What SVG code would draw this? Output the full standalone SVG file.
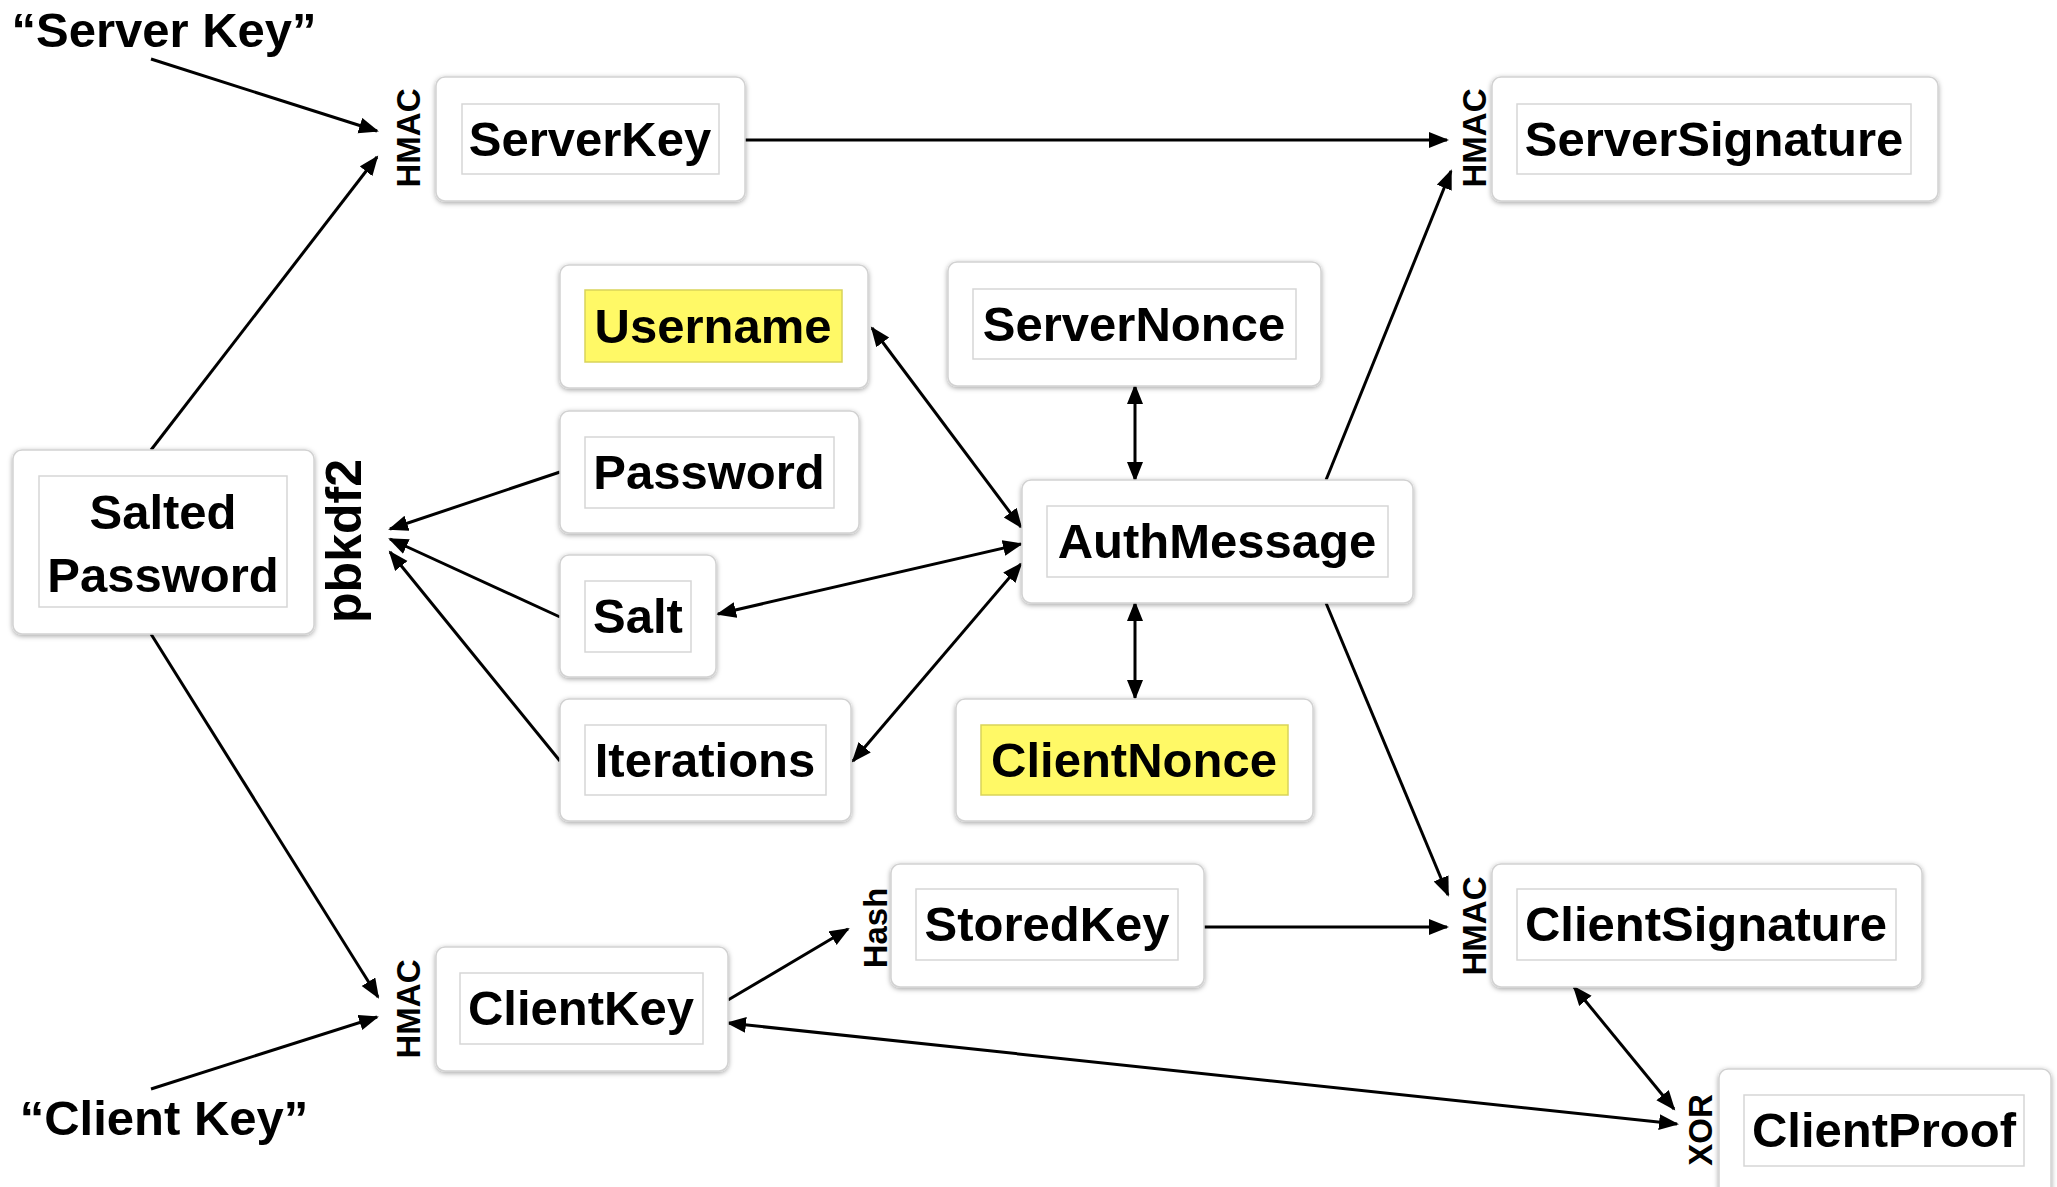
<svg xmlns="http://www.w3.org/2000/svg" width="2057" height="1187" viewBox="0 0 2057 1187">
  <style>
    .box { fill: #ffffff; stroke: #d2d2d2; stroke-width: 1.5; filter: url(#sh); }
    .inner { fill: #ffffff; stroke: #d6d6d6; stroke-width: 1.5; }
    .hl { fill: #fff966; stroke: #d9d35a; stroke-width: 1.5; }
    .lbl { font-family: "Liberation Sans", Arial, Helvetica, sans-serif; font-weight: bold; font-size: 49px; fill: #000; text-anchor: middle; }
    .op { font-family: "Liberation Sans", Arial, Helvetica, sans-serif; font-weight: bold; font-size: 33px; fill: #000; text-anchor: middle; }
    .kdf { font-family: "Liberation Sans", Arial, Helvetica, sans-serif; font-weight: bold; font-size: 50px; fill: #000; text-anchor: middle; }
    .edge { stroke: #000; stroke-width: 3; fill: none; marker-end: url(#ah); }
    .both { marker-start: url(#ah); }
  </style>
  <defs>
    <filter id="sh" x="-10%" y="-10%" width="120%" height="125%">
      <feDropShadow dx="0" dy="1.5" stdDeviation="2.5" flood-color="#000" flood-opacity="0.35"/>
    </filter>
    <marker id="ah" markerUnits="userSpaceOnUse" markerWidth="22" markerHeight="18" refX="18" refY="8" orient="auto-start-reverse" viewBox="0 0 22 18">
      <path d="M0,0 L20,8 L0,16 z" fill="#000"/>
    </marker>
  </defs>

  <rect width="2057" height="1187" fill="#ffffff"/>

  <!-- connectors -->
  <g id="connectors">
    <line class="edge" x1="151" y1="59" x2="377" y2="131"/>
    <line class="edge" x1="151" y1="450" x2="377" y2="157"/>
    <line class="edge" x1="745" y1="140" x2="1447" y2="140"/>
    <line class="edge" x1="1326" y1="480" x2="1451" y2="171"/>
    <line class="edge both" x1="872" y1="328" x2="1021" y2="527"/>
    <line class="edge both" x1="1135" y1="386" x2="1135" y2="480"/>
    <line class="edge" x1="560" y1="472" x2="390" y2="529"/>
    <line class="edge" x1="560" y1="617" x2="390" y2="539"/>
    <line class="edge" x1="560" y1="761" x2="390" y2="552"/>
    <line class="edge both" x1="718" y1="614" x2="1021" y2="544"/>
    <line class="edge both" x1="853" y1="761" x2="1021" y2="564"/>
    <line class="edge both" x1="1135" y1="698" x2="1135" y2="603"/>
    <line class="edge" x1="1326" y1="603" x2="1448" y2="895"/>
    <line class="edge" x1="1204" y1="927" x2="1447" y2="927"/>
    <line class="edge" x1="151" y1="634" x2="378" y2="997"/>
    <line class="edge" x1="151" y1="1089" x2="377" y2="1017"/>
    <line class="edge" x1="728" y1="1000" x2="848" y2="929"/>
    <line class="edge both" x1="728" y1="1023" x2="1677" y2="1124"/>
    <line class="edge both" x1="1574" y1="987" x2="1674" y2="1109"/>
  </g>

  <!-- free-standing input labels -->
  <g id="label-server-key">
    <text class="lbl" x="164" y="47">“Server Key”</text>
  </g>
  <g id="label-client-key">
    <text class="lbl" x="164" y="1135">“Client Key”</text>
  </g>

  <!-- operation labels -->
  <g id="op-labels">
    <text class="op" transform="translate(420,138) rotate(-90)">HMAC</text>
    <text class="op" transform="translate(1486,138) rotate(-90)">HMAC</text>
    <text class="kdf" transform="translate(361,541) rotate(-90)">pbkdf2</text>
    <text class="op" transform="translate(420,1009) rotate(-90)">HMAC</text>
    <text class="op" transform="translate(887,928) rotate(-90)">Hash</text>
    <text class="op" transform="translate(1486,926) rotate(-90)">HMAC</text>
    <text class="op" transform="translate(1712,1130) rotate(-90)">XOR</text>
  </g>

  <!-- nodes -->
  <g id="node-serverkey">
    <rect class="box" x="436" y="77" width="309" height="124" rx="9"/>
    <rect class="inner" x="462" y="104" width="257" height="70"/>
    <text class="lbl" x="590" y="156">ServerKey</text>
  </g>
  <g id="node-serversignature">
    <rect class="box" x="1492" y="77" width="446" height="124" rx="9"/>
    <rect class="inner" x="1517" y="104" width="394" height="70"/>
    <text class="lbl" x="1714" y="156">ServerSignature</text>
  </g>
  <g id="node-username">
    <rect class="box" x="560" y="265" width="308" height="123" rx="9"/>
    <rect class="hl" x="585" y="290" width="257" height="72"/>
    <text class="lbl" x="713" y="343">Username</text>
  </g>
  <g id="node-servernonce">
    <rect class="box" x="948" y="262" width="373" height="124" rx="9"/>
    <rect class="inner" x="973" y="289" width="323" height="70"/>
    <text class="lbl" x="1134" y="341">ServerNonce</text>
  </g>
  <g id="node-password">
    <rect class="box" x="560" y="411" width="299" height="122" rx="9"/>
    <rect class="inner" x="585" y="437" width="249" height="71"/>
    <text class="lbl" x="709" y="489">Password</text>
  </g>
  <g id="node-saltedpassword">
    <rect class="box" x="13" y="450" width="301" height="184" rx="9"/>
    <rect class="inner" x="39" y="476" width="248" height="131"/>
    <text class="lbl" x="163" y="529">Salted</text>
    <text class="lbl" x="163" y="592">Password</text>
  </g>
  <g id="node-authmessage">
    <rect class="box" x="1022" y="480" width="391" height="123" rx="9"/>
    <rect class="inner" x="1047" y="506" width="341" height="71"/>
    <text class="lbl" x="1217" y="558">AuthMessage</text>
  </g>
  <g id="node-salt">
    <rect class="box" x="560" y="555" width="156" height="122" rx="9"/>
    <rect class="inner" x="585" y="581" width="106" height="71"/>
    <text class="lbl" x="638" y="633">Salt</text>
  </g>
  <g id="node-iterations">
    <rect class="box" x="560" y="699" width="291" height="122" rx="9"/>
    <rect class="inner" x="585" y="725" width="241" height="70"/>
    <text class="lbl" x="705" y="777">Iterations</text>
  </g>
  <g id="node-clientnonce">
    <rect class="box" x="956" y="699" width="357" height="122" rx="9"/>
    <rect class="hl" x="981" y="725" width="307" height="70"/>
    <text class="lbl" x="1134" y="777">ClientNonce</text>
  </g>
  <g id="node-storedkey">
    <rect class="box" x="891" y="864" width="313" height="123" rx="9"/>
    <rect class="inner" x="916" y="889" width="262" height="71"/>
    <text class="lbl" x="1047" y="941">StoredKey</text>
  </g>
  <g id="node-clientsignature">
    <rect class="box" x="1492" y="864" width="430" height="123" rx="9"/>
    <rect class="inner" x="1517" y="889" width="379" height="71"/>
    <text class="lbl" x="1706" y="941">ClientSignature</text>
  </g>
  <g id="node-clientkey">
    <rect class="box" x="436" y="947" width="292" height="124" rx="9"/>
    <rect class="inner" x="460" y="973" width="243" height="71"/>
    <text class="lbl" x="581" y="1025">ClientKey</text>
  </g>
  <g id="node-clientproof">
    <rect class="box" x="1719" y="1069" width="332" height="130" rx="9"/>
    <rect class="inner" x="1744" y="1095" width="280" height="71"/>
    <text class="lbl" x="1884" y="1147">ClientProof</text>
  </g>
</svg>
